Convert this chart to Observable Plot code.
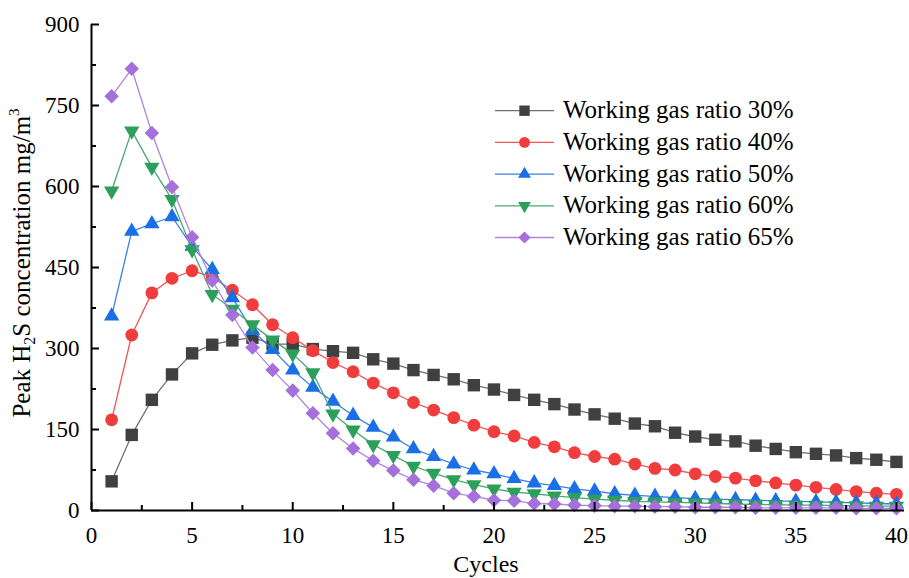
<!DOCTYPE html>
<html><head><meta charset="utf-8">
<script src="https://cdn.jsdelivr.net/npm/d3@7"></script>
<script src="https://cdn.jsdelivr.net/npm/@observablehq/plot@0.6"></script>
<style>
body{margin:0;background:#fff;}
#chart{position:relative;width:909px;height:578px;}
</style>
</head><body><div id="chart"></div>
<script>
const cycles = [1,2,3,4,5,6,7,8,9,10,11,12,13,14,15,16,17,18,19,20,21,22,23,24,25,26,27,28,29,30,31,32,33,34,35,36,37,38,39,40];
const ratio30 = [54,140,205,252,291,307,315,320,308,308,299,295,292,280,272,260,251,243,232,224,214,205,197,187,178,170,161,156,144,137,131,128,120,114,108,105,102,97,94,90];
const ratio40 = [168,325,403,430,444,432,408,381,344,320,296,274,257,236,218,200,186,172,158,146,138,126,118,107,100,95,86,78,75,68,63,60,55,51,47,43,39,35,32,30];
const ratio50 = [360,517,531,544,489,446,394,333,298,260,228,202,176,154,136,114,100,86,75,68,59,51,46,40,36,31,28,26,24,22,21,20,19,18,17,16,15,14,13,12];
const ratio60 = [592,703,636,576,483,400,373,344,316,290,255,179,149,122,102,82,69,57,48,40,34,31,27,24,21,19,17,16,15,14,13,12,11,11,10,10,9,9,8,8];
const ratio65 = [767,818,699,599,506,426,362,302,260,222,180,143,115,92,74,57,46,32,26,19,18,13,12,10,9,8,8,7,7,6,6,6,5,5,5,5,5,4,4,4];

const seriesNames = ["Working gas ratio 30%","Working gas ratio 40%","Working gas ratio 50%","Working gas ratio 60%","Working gas ratio 65%"];
const seriesValues = [ratio30, ratio40, ratio50, ratio60, ratio65];
const markerColors = ["#404040","#f03c3c","#1a6ee6","#2ca05a","#a56fdc"];
const lineColors = ["#707070","#f25555","#3d7ee6","#4aa870","#b084e0"];

const yTickValues = [0,150,300,450,600,750,900];
const yMinorTicks = [75,225,375,525,675,825];
const xTickValues = [0,5,10,15,20,25,30,35,40];
const xMinorTicks = [2.5,7.5,12.5,17.5,22.5,27.5,32.5,37.5];
const xTitle = "Cycles";

// custom symbols
const triDown = {draw(ctx, size){ const s = Math.sqrt(4*size/Math.sqrt(3)); const h = s*Math.sqrt(3)/2;
  ctx.moveTo(0, 2*h/3); ctx.lineTo(-s/2, -h/3); ctx.lineTo(s/2, -h/3); ctx.closePath(); }};
const triUp = {draw(ctx, size){ const s = Math.sqrt(4*size/Math.sqrt(3)); const h = s*Math.sqrt(3)/2;
  ctx.moveTo(0, -2*h/3); ctx.lineTo(-s/2, h/3); ctx.lineTo(s/2, h/3); ctx.closePath(); }};
const squareSym = {draw(ctx, size){ const w = Math.sqrt(size); ctx.rect(-w/2,-w/2,w,w); }};
const circleSym = {draw(ctx, size){ const r = Math.sqrt(size/Math.PI); ctx.moveTo(r,0); ctx.arc(0,0,r,0,2*Math.PI); }};
const diamondSym = {draw(ctx, size){ const d = Math.sqrt(size/2); ctx.moveTo(0,-d); ctx.lineTo(d,0); ctx.lineTo(0,d); ctx.lineTo(-d,0); ctx.closePath(); }};
const symbols = [squareSym, circleSym, triUp, triDown, diamondSym];
const symbolSizes = [7.0, 6.4, 5.7, 5.7, 5.8]; // r equivalent (area = pi r^2)

const tables = seriesValues.map((vals, k) => cycles.map((c, i) => ({cycle: c, value: vals[i], series: seriesNames[k]})));

const marks = [];
tables.forEach((t, k) => {
  marks.push(Plot.line(t, {x: "cycle", y: "value", stroke: lineColors[k], strokeWidth: 1.3}));
  marks.push(Plot.dot(t, {x: "cycle", y: "value", symbol: symbols[k], r: symbolSizes[k], fill: markerColors[k], stroke: "none"}));
});

const chart = Plot.plot({
  width: 909, height: 578,
  marginLeft: 91, marginRight: 5, marginTop: 24, marginBottom: 68,
  style: {fontFamily: "'Liberation Serif', 'Times New Roman', serif", fontSize: "23px", background: "#fff", color: "#000"},
  x: {domain: [0, 40.4], label: null},
  y: {domain: [0, 900], label: null},
  marks: [
    ...marks,
    Plot.axisY(yTickValues, {anchor: "left", tickSize: -8, tickPadding: 20, strokeWidth: 2, label: null, fontSize: 23}),
    Plot.axisY(yMinorTicks, {anchor: "left", tickSize: -5, strokeWidth: 2, tickFormat: () => "", label: null}),
    Plot.axisX(xTickValues, {anchor: "bottom", tickSize: -8, tickPadding: 24, strokeWidth: 2, label: null, fontSize: 23}),
    Plot.axisX(xMinorTicks, {anchor: "bottom", tickSize: -5, strokeWidth: 2, tickFormat: () => "", label: null}),
    Plot.ruleX([0], {strokeWidth: 2}),
    Plot.ruleY([0], {strokeWidth: 2})
  ]
});
document.getElementById("chart").appendChild(chart);

const svg = d3.select(chart);
const font = "'Liberation Serif', 'Times New Roman', serif";

// x title
svg.append("text").attr("x", 486).attr("y", 572).attr("text-anchor", "middle")
  .attr("font-family", font).attr("font-size", 24).attr("fill", "#000").text(xTitle);

// y title with sub/superscript
const yt = svg.append("text").attr("transform", "translate(30,263) rotate(-90)").attr("text-anchor", "middle")
  .attr("font-family", font).attr("font-size", 25).attr("fill", "#000");
yt.append("tspan").text("Peak H");
yt.append("tspan").attr("font-size", 16).attr("dy", 5).text("2");
yt.append("tspan").attr("dy", -5).text("S concentration mg/m");
yt.append("tspan").attr("font-size", 15).attr("dy", -11).text("3");

// legend
const lg = svg.append("g");
seriesNames.forEach((name, k) => {
  const cy = 110.7 + k * 31.7;
  lg.append("line").attr("x1", 495).attr("x2", 554).attr("y1", cy).attr("y2", cy)
    .attr("stroke", lineColors[k]).attr("stroke-width", 1.3);
  const area = Math.PI * symbolSizes[k] * symbolSizes[k] * 0.7;
  lg.append("path").attr("transform", `translate(524.5,${cy})`)
    .attr("d", d3.symbol().type(symbols[k]).size(area)()).attr("fill", markerColors[k]);
  lg.append("text").attr("x", 563).attr("y", cy + 7.5).attr("text-anchor", "start")
    .attr("font-family", font).attr("font-size", 25).attr("fill", "#000").text(name);
});
</script>
</body></html>
